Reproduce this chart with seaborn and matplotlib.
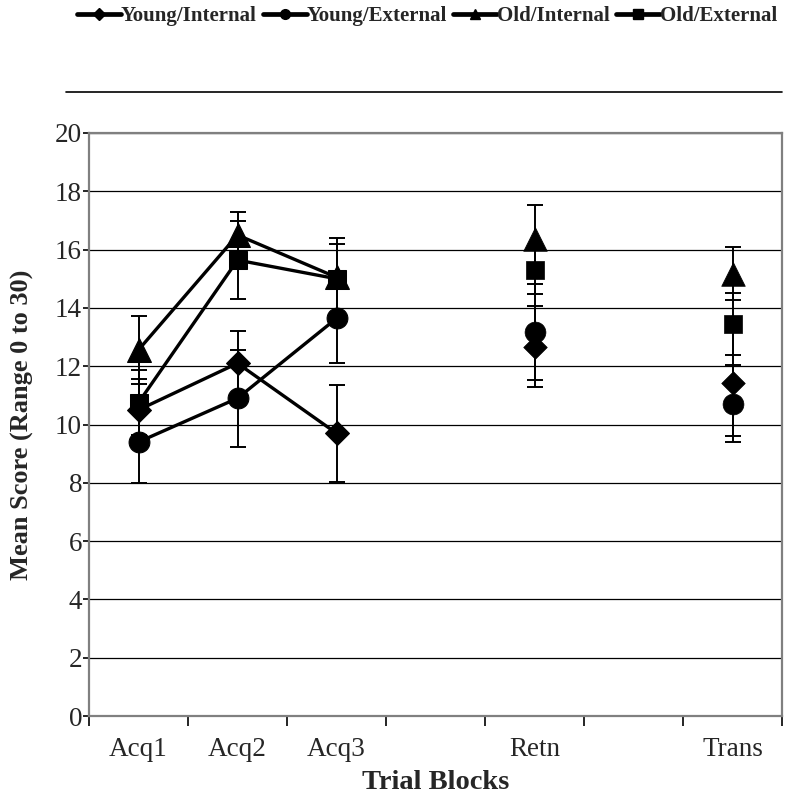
import matplotlib
matplotlib.use("Agg")
import matplotlib.pyplot as plt
from matplotlib.lines import Line2D
import seaborn as sns
import pandas as pd
import numpy as np

# ---- data ----
categories = ["Acq1", "Acq2", "Acq3", "", "Retn", "", "Trans"]
blocks = ["Acq1", "Acq2", "Acq3", "Retn", "Trans"]
acq_blocks = ["Acq1", "Acq2", "Acq3"]

series_names = ["Young/Internal", "Young/External", "Old/Internal", "Old/External"]
young_internal = [10.5, 12.1, 9.7, 12.67, 11.43]
young_internal_se = [1.05, 1.1, 1.67, 1.39, 1.81]
young_external = [9.4, 10.9, 13.64, 13.18, 10.72]
young_external_se = [1.4, 1.66, 1.54, 1.65, 1.33]
old_internal = [12.56, 16.5, 15.05, 16.35, 15.18]
old_internal_se = [1.16, 0.8, 1.35, 1.18, 0.9]
old_external = [10.75, 15.64, 15.0, 15.3, 13.45]
old_external_se = [1.12, 1.33, 1.2, 0.84, 1.07]

yticks = [0, 2, 4, 6, 8, 10, 12, 14, 16, 18, 20]

# ---- build table ----
values = [young_internal, young_external, old_internal, old_external]
ses = [young_internal_se, young_external_se, old_internal_se, old_external_se]
rows = []
for name, vals, err in zip(series_names, values, ses):
    for b, v, e in zip(blocks, vals, err):
        rows.append({"series": name, "block": b, "pos": categories.index(b),
                     "score": v, "se": e, "acq": b in acq_blocks})
df = pd.DataFrame(rows)

markers = {"Young/Internal": "D", "Young/External": "o",
           "Old/Internal": "^", "Old/External": "s"}
msizes = {"Young/Internal": 12, "Young/External": 15,
          "Old/Internal": 17, "Old/External": 13}

sns.set_theme(style="white")
plt.rcParams["font.family"] = ["Liberation Serif", "DejaVu Serif"]

fig = plt.figure(figsize=(7.88, 7.96), dpi=100)
ax = fig.add_axes([89 / 788, 1 - 716 / 796, (782 - 89) / 788, (716 - 133) / 796])

for name in series_names:
    d = df[df.series == name]
    ax.errorbar(d["pos"], d["score"], yerr=d["se"], fmt="none", ecolor="black",
                elinewidth=1.4, capsize=6, capthick=1.4, zorder=3)
    da = d[d.acq]
    sns.lineplot(data=da, x="pos", y="score", ax=ax, color="black", lw=2.4,
                 marker=markers[name], markersize=msizes[name],
                 markeredgecolor="black", markerfacecolor="black",
                 estimator=None, sort=False, legend=False, zorder=4)
    dn = d[~d.acq]
    sns.scatterplot(data=dn, x="pos", y="score", ax=ax, color="black",
                    marker=markers[name], s=msizes[name] ** 2,
                    edgecolor="black", linewidth=0.5, legend=False, zorder=4)

ax.set_xlim(-0.5, len(categories) - 0.5)
ax.set_ylim(0, 20)
ax.set_yticks(yticks)
ax.set_yticklabels([str(t) for t in yticks], fontsize=19.5)
ax.set_xticks(np.arange(-0.5, len(categories), 1.0))
ax.set_xticklabels([])
ax.set_xticks(np.arange(len(categories)), minor=True)
ax.set_xticklabels(categories, minor=True, fontsize=19.5)
ax.tick_params(axis="x", which="major", direction="out", length=7, width=1.2,
               color="black", bottom=True)
ax.tick_params(axis="x", which="minor", length=0, pad=15)
ax.tick_params(axis="y", direction="out", length=4, width=1.2, color="black",
               left=True, pad=1)
ax.grid(axis="y", color="black", lw=0.9)
ax.grid(axis="x", visible=False)
ax.set_axisbelow(True)
for s in ax.spines.values():
    s.set_visible(True)
    s.set_color("#808080")
    s.set_linewidth(1.6)

ax.set_xlabel("Trial Blocks", fontsize=20.5, fontweight="bold", labelpad=6)
ax.set_ylabel("Mean Score (Range 0 to 30)", fontsize=19, fontweight="bold", labelpad=15)

handles = [Line2D([], [], color="black", lw=3.4, marker=markers[n],
                  markersize={"D": 6, "o": 7, "^": 7, "s": 7}[markers[n]],
                  markerfacecolor="black", markeredgecolor="black")
           for n in series_names]
leg = fig.legend(handles, series_names, loc="center",
                 bbox_to_anchor=(427 / 788, 1 - 16 / 796), ncol=4, frameon=False,
                 prop={"family": ["Liberation Serif"], "weight": "bold", "size": 15},
                 handlelength=2.1, handletextpad=0.0, columnspacing=0.3,
                 borderpad=0, borderaxespad=0)

fig.add_artist(Line2D([66 / 788, 782 / 788], [1 - 92 / 796, 1 - 92 / 796],
                      transform=fig.transFigure, color="black", lw=1.2))

fig.savefig("out.png", dpi=100)
